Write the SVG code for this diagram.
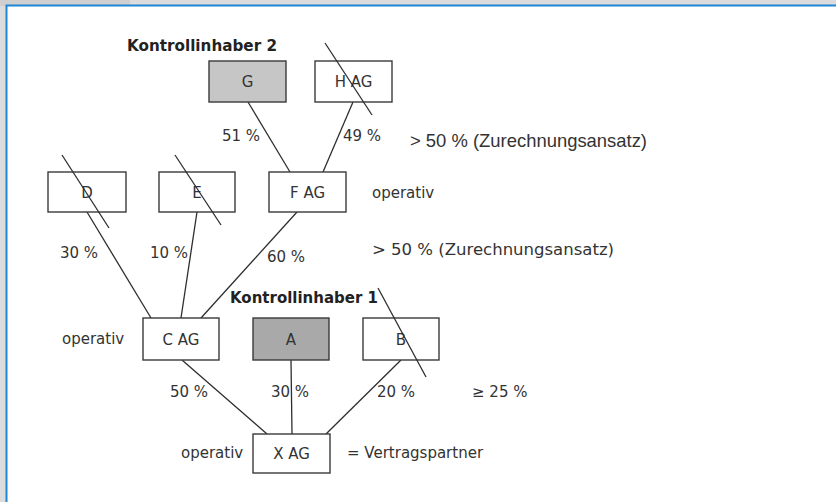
<svg xmlns="http://www.w3.org/2000/svg" width="836" height="502" viewBox="0 0 836 502">
<defs>
<style>
.box{stroke:#3a3a3a;stroke-width:1.4;fill:#fff}
.lbl{font-family:"DejaVu Sans",Verdana,sans-serif;font-size:15px;fill:#333}
.bl{font-family:"DejaVu Sans",Verdana,sans-serif;font-size:15px;font-weight:bold;fill:#222}
.cal{font-family:"Liberation Sans","Noto Sans",sans-serif;font-size:19px;fill:#333}
.c{text-anchor:middle}
.ln{stroke:#2e2e2e;stroke-width:1.3;fill:none}
</style>
</defs>
<rect width="836" height="502" fill="#dcdcdc"/>
<rect x="0" y="0" width="130" height="6" fill="#cfcfcf"/>
<rect x="6" y="5" width="830" height="497" fill="#fff"/>
<path d="M6.5 502 V5.5 H836" stroke="#1f86d6" stroke-width="2" fill="none"/>

<g id="connectors">
<line class="ln" x1="248" y1="102" x2="290" y2="172"/>
<line class="ln" x1="353" y1="102" x2="323" y2="172"/>
<line class="ln" x1="87" y1="212" x2="151" y2="318"/>
<line class="ln" x1="197" y1="212" x2="181" y2="318"/>
<line class="ln" x1="297" y1="212" x2="201" y2="318"/>
<line class="ln" x1="182" y1="360" x2="267" y2="434"/>
<line class="ln" x1="291" y1="360" x2="292" y2="434"/>
<line class="ln" x1="401" y1="360" x2="326" y2="434"/>
</g>

<g id="labels">
<text class="bl" x="127" y="51" textLength="150" lengthAdjust="spacingAndGlyphs">Kontrollinhaber 2</text>
<text class="lbl" x="222" y="141">51 %</text>
<text class="lbl" x="343" y="141">49 %</text>
<text class="cal" x="410" y="147" textLength="237" lengthAdjust="spacingAndGlyphs">&gt; 50 % (Zurechnungsansatz)</text>
<text class="lbl" x="372" y="198">operativ</text>
<text class="lbl" x="60" y="258">30 %</text>
<text class="lbl" x="150" y="258">10 %</text>
<text class="lbl" x="267" y="262">60 %</text>
<text class="lbl" x="372" y="255" textLength="242" lengthAdjust="spacingAndGlyphs" style="font-size:16px">&gt; 50 % (Zurechnungsansatz)</text>
<text class="bl" x="230" y="303" textLength="148" lengthAdjust="spacingAndGlyphs">Kontrollinhaber 1</text>
<text class="lbl" x="62" y="344">operativ</text>
<text class="lbl" x="170" y="397">50 %</text>
<text class="lbl" x="271" y="397">30 %</text>
<text class="lbl" x="377" y="397">20 %</text>
<text class="lbl" x="472" y="397">≥ 25 %</text>
<text class="lbl" x="181" y="458">operativ</text>
<text class="lbl" x="347" y="458">= Vertragspartner</text>
</g>

<g id="node-G"><rect class="box" x="209" y="61" width="77" height="41" style="fill:#c6c6c6"/><text class="lbl c" x="247.5" y="87">G</text></g>
<g id="node-H"><rect class="box" x="315" y="61" width="77" height="41"/><text class="lbl c" x="353.5" y="87">H AG</text><line class="ln" x1="325" y1="43" x2="372" y2="115"/></g>
<g id="node-D"><rect class="box" x="48" y="172" width="78" height="40"/><text class="lbl c" x="87" y="198">D</text><line class="ln" x1="62" y1="155" x2="109" y2="228"/></g>
<g id="node-E"><rect class="box" x="159" y="172" width="76" height="40"/><text class="lbl c" x="197" y="198">E</text><line class="ln" x1="175" y1="155" x2="221" y2="225"/></g>
<g id="node-F"><rect class="box" x="269" y="172" width="77" height="40"/><text class="lbl c" x="307.5" y="198">F AG</text></g>
<g id="node-C"><rect class="box" x="143" y="318" width="76" height="42"/><text class="lbl c" x="181" y="345">C AG</text></g>
<g id="node-A"><rect class="box" x="253" y="318" width="76" height="42" style="fill:#a9a9a9"/><text class="lbl c" x="291" y="345">A</text></g>
<g id="node-B"><rect class="box" x="363" y="318" width="76" height="42"/><text class="lbl c" x="401" y="345">B</text><line class="ln" x1="378" y1="288" x2="426" y2="377"/></g>
<g id="node-X"><rect class="box" x="253" y="434" width="77" height="39"/><text class="lbl c" x="291.5" y="459">X AG</text></g>
</svg>
